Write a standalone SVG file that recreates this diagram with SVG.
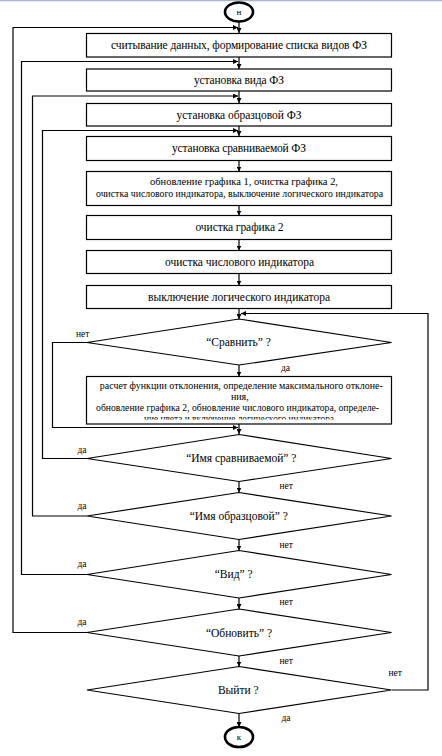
<svg xmlns="http://www.w3.org/2000/svg" width="442" height="756" viewBox="0 0 442 756" font-family="'Liberation Serif', 'DejaVu Serif', serif">
<style>
.s{fill:#fff;stroke:#000;stroke-width:1.2}
.t{font-family:'Liberation Serif','DejaVu Serif',serif;font-size:11.5px;fill:#000;text-anchor:middle}
.sm{font-size:10.5px}
.l{font-family:'Liberation Serif','DejaVu Serif',serif;font-size:9.5px;fill:#000}
.c{fill:none;stroke:#000;stroke-width:1.2}
.e{fill:#fff;stroke:#000;stroke-width:2.6}
</style>
<defs>
<marker id="a" viewBox="0 0 10 10" refX="10" refY="5" markerWidth="5" markerHeight="5" orient="auto" markerUnits="userSpaceOnUse"><path d="M0,0 L10,5 L0,10 z" fill="#000"/></marker>
<clipPath id="cp"><rect x="86" y="377" width="306" height="42.5"/></clipPath>
</defs>
<rect x="0" y="0" width="442" height="756" fill="#fff"/>
<line x1="0" y1="0.5" x2="442" y2="0.5" stroke="#aab4cc" stroke-width="1.5"/>

<g id="connectors">
<path class="c" d="M239,21.5 V33" marker-end="url(#a)"/>
<path class="c" d="M239,57 V69" marker-end="url(#a)"/>
<path class="c" d="M239,91 V103" marker-end="url(#a)"/>
<path class="c" d="M239,126 V136" marker-end="url(#a)"/>
<path class="c" d="M239,160.5 V171.5" marker-end="url(#a)"/>
<path class="c" d="M239,205.5 V215.5" marker-end="url(#a)"/>
<path class="c" d="M239,239.5 V250.5" marker-end="url(#a)"/>
<path class="c" d="M239,273.5 V285.5" marker-end="url(#a)"/>
<path class="c" d="M239,308.5 V319" marker-end="url(#a)"/>
<path class="c" d="M239,365 V376.5" marker-end="url(#a)"/>
<path class="c" d="M239,424 V434" marker-end="url(#a)"/>
<path class="c" d="M239,481.5 V492.5" marker-end="url(#a)"/>
<path class="c" d="M239,539.5 V550.5" marker-end="url(#a)"/>
<path class="c" d="M239,598 V609" marker-end="url(#a)"/>
<path class="c" d="M239,656 V666.5" marker-end="url(#a)"/>
<path class="c" d="M239,713.5 V727" marker-end="url(#a)"/>
<path class="c" d="M87,342.5 H52.5 V427.5 H238" marker-end="url(#a)"/>
<path class="c" d="M87,458.5 H42.5 V130.5 H238" marker-end="url(#a)"/>
<path class="c" d="M87,516 H32.5 V96 H238" marker-end="url(#a)"/>
<path class="c" d="M87,574.5 H21.5 V61.5 H238" marker-end="url(#a)"/>
<path class="c" d="M87,632.5 H13 V27.5 H238" marker-end="url(#a)"/>
<path class="c" d="M392,690 H428 V313.5 H241" marker-end="url(#a)"/>
</g>

<g id="start"><ellipse class="e" cx="239" cy="12" rx="14" ry="9.5"/><text class="t" x="239" y="15" style="font-size:9px">н</text></g>

<g id="b1"><rect class="s" x="86.5" y="33.5" width="305" height="23.5"/><text class="t" x="239" y="49" textLength="256" lengthAdjust="spacing">считывание данных, формирование списка видов ФЗ</text></g>
<g id="b2"><rect class="s" x="86.5" y="69" width="305" height="22"/><text class="t" x="239" y="84" textLength="90" lengthAdjust="spacing">установка вида ФЗ</text></g>
<g id="b3"><rect class="s" x="86.5" y="103.5" width="305" height="22.5"/><text class="t" x="239" y="119" textLength="125" lengthAdjust="spacing">установка образцовой ФЗ</text></g>
<g id="b4"><rect class="s" x="86.5" y="136.5" width="305" height="24"/><text class="t" x="239" y="152" textLength="134" lengthAdjust="spacing">установка сравниваемой ФЗ</text></g>
<g id="b5"><rect class="s" x="86.5" y="171.5" width="305" height="34"/><text class="t sm" x="244" y="184.5" textLength="188" lengthAdjust="spacingAndGlyphs">обновление графика 1, очистка графика 2,</text><text class="t sm" x="239.5" y="197" textLength="287" lengthAdjust="spacingAndGlyphs">очистка числового индикатора, выключение логического индикатора</text></g>
<g id="b6"><rect class="s" x="86.5" y="215.5" width="305" height="24"/><text class="t" x="239.5" y="231" textLength="88" lengthAdjust="spacing">очистка графика 2</text></g>
<g id="b7"><rect class="s" x="86.5" y="250.5" width="305" height="23"/><text class="t" x="239.5" y="266" textLength="149" lengthAdjust="spacing">очистка числового индикатора</text></g>
<g id="b8"><rect class="s" x="86.5" y="285.5" width="305" height="23"/><text class="t" x="239" y="301" textLength="182" lengthAdjust="spacing">выключение логического индикатора</text></g>

<g id="d1"><polygon class="s" points="239,319 391.5,342.5 239,365 87,342.5"/><text class="t" x="238.5" y="346">“Сравнить” ?</text></g>

<g id="b9"><rect class="s" x="86.5" y="376.5" width="305" height="47.5"/>
<g clip-path="url(#cp)">
<text class="t sm" x="241.3" y="388.5" textLength="283" lengthAdjust="spacingAndGlyphs">расчет функции отклонения, определение максимального отклоне-</text>
<text class="t" x="239.8" y="399.5" style="font-size:10px">ния,</text>
<text class="t sm" x="237.6" y="411" textLength="283" lengthAdjust="spacingAndGlyphs">обновление графика 2, обновление числового индикатора, определе-</text>
<text class="t sm" x="239" y="422" textLength="190" lengthAdjust="spacingAndGlyphs">ние цвета и включение логического индикатора</text>
</g></g>

<g id="d2"><polygon class="s" points="239,434.5 391.5,458.5 239,481.5 87,458.5"/><text class="t" x="241.3" y="462">“Имя сравниваемой” ?</text></g>
<g id="d3"><polygon class="s" points="239,492.5 391.5,516 239,539.5 87,516"/><text class="t" x="238.7" y="520">“Имя образцовой” ?</text></g>
<g id="d4"><polygon class="s" points="239,550.5 391.5,574.5 239,598 87,574.5"/><text class="t" x="233.7" y="578">“Вид” ?</text></g>
<g id="d5"><polygon class="s" points="239,609 391.5,632.5 239,656 87,632.5"/><text class="t" x="239" y="636.5">“Обновить” ?</text></g>
<g id="d6"><polygon class="s" points="239,666.5 391.5,690 239,713.5 87,690"/><text class="t" x="238.3" y="694">Выйти ?</text></g>

<g id="end"><ellipse class="e" cx="239" cy="737" rx="14" ry="10"/><text class="t" x="239" y="740" style="font-size:9px">к</text></g>

<g id="labels">
<text class="l" x="76" y="337">нет</text>
<text class="l" x="281" y="371">да</text>
<text class="l" x="77.5" y="453">да</text>
<text class="l" x="279.5" y="489">нет</text>
<text class="l" x="77.5" y="509">да</text>
<text class="l" x="279.5" y="547.5">нет</text>
<text class="l" x="77.5" y="567">да</text>
<text class="l" x="279.5" y="605">нет</text>
<text class="l" x="77.5" y="624.5">да</text>
<text class="l" x="279.5" y="663.5">нет</text>
<text class="l" x="388.5" y="675.5">нет</text>
<text class="l" x="281.5" y="721">да</text>
</g>
</svg>
